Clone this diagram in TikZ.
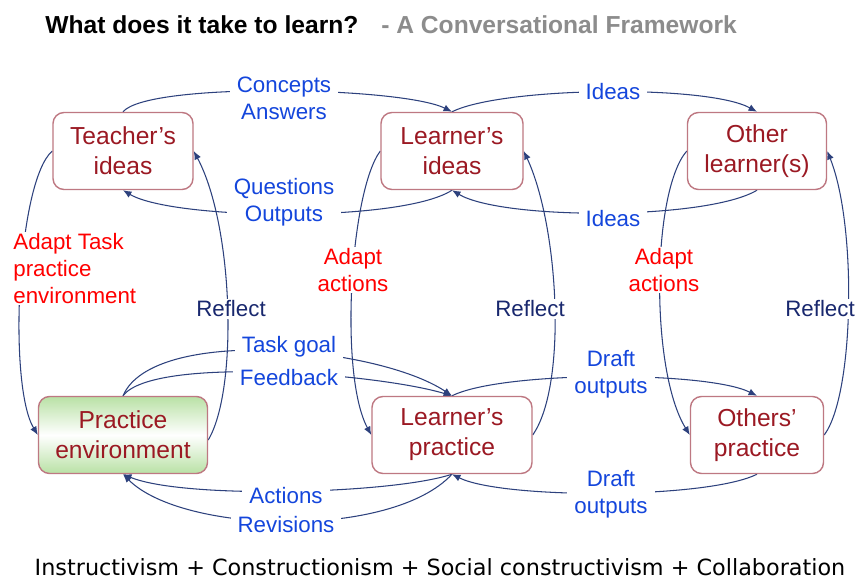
\documentclass[tikz,border=0pt]{standalone}
\usepackage{fontspec}
\setmainfont{Liberation Sans}
\newfontfamily\verdanafont{DejaVu Sans}
\usetikzlibrary{arrows.meta, positioning, backgrounds}

\definecolor{boxline}{RGB}{190,120,130}
\definecolor{boxtext}{RGB}{155,25,35}
\definecolor{lblblue}{RGB}{20,70,220}
\definecolor{navy}{RGB}{25,40,110}
\definecolor{linecol}{RGB}{45,65,125}
\definecolor{envgreen}{RGB}{185,225,165}
\definecolor{titlegray}{RGB}{140,140,140}

\begin{document}
\begin{tikzpicture}[
    on grid,
    idea/.style={rectangle, rounded corners=0.22cm, draw=boxline, line width=0.8pt, fill=white,
                 minimum height=1.54cm, minimum width=2.8cm, align=center, text=boxtext,
                 font=\fontsize{14}{17}\selectfont},
    envbox/.style={idea, top color=envgreen, bottom color=envgreen, middle color=white},
    lbl/.style={fill=white, inner xsep=4pt, inner ysep=1pt, align=center, text=lblblue,
                font=\fontsize{12.7}{15.2}\selectfont},
    adapt/.style={lbl, text=red},
    refl/.style={lbl, text=navy},
    arrow/.style={-{Latex[length=1.7mm, width=1.4mm]}, line width=0.6pt, draw=linecol}
]
\useasboundingbox (0,0) rectangle (17.14,-11.58);

% heading
\node[anchor=west, inner sep=0pt, font=\fontsize{14}{17}\selectfont\bfseries] (title) at (0.9,-0.5) {What does it take to learn?};
\node[anchor=west, inner sep=0pt, text=titlegray, font=\fontsize{14}{17}\selectfont\bfseries] (subtitle) at (7.62,-0.5) {- A Conversational Framework};

% ideas row
\node[idea] (tideas) at (2.46,-3.02) {Teacher’s\\ideas};
\node[idea, minimum width=2.84cm, right=6.58cm of tideas] (lideas) {Learner’s\\ideas};
\node[idea, minimum width=2.78cm, right=6.1cm of lideas] (oideas) {Other\\learner(s)};

% practice row
\node[envbox, minimum width=3.38cm, below=5.68cm of tideas] (penv) {Practice\\environment};
\node[idea, minimum width=3.2cm, below=5.68cm of lideas] (lpract) {Learner’s\\practice};
\node[idea, minimum width=2.66cm, below=5.68cm of oideas] (opract) {Others’\\practice};

% labels
\node[lbl] (concepts) at (5.68,-1.96) {Concepts\\Answers};
\node[lbl] (ideastop) at (12.26,-1.84) {Ideas};
\node[lbl] (questions) at (5.68,-4.04) {Questions\\Outputs};
\node[lbl] (ideasbot) at (12.26,-4.38) {Ideas};
\node[adapt, anchor=west, align=left] (adapttask) at (0.12,-5.37) {Adapt Task\\practice\\environment};
\node[adapt] (adaptl) at (7.06,-5.4) {Adapt\\actions};
\node[adapt] (adapto) at (13.28,-5.4) {Adapt\\actions};
\node[refl] (reflectt) at (4.62,-6.18) {Reflect};
\node[refl] (reflectl) at (10.6,-6.18) {Reflect};
\node[refl] (reflecto) at (16.4,-6.18) {Reflect};
\node[lbl] (taskgoal) at (5.78,-6.94) {Task goal};
\node[lbl] (feedback) at (5.78,-7.56) {Feedback};
\node[lbl] (drafttop) at (12.22,-7.48) {Draft\\outputs};
\node[lbl] (actions) at (5.72,-9.92) {Actions};
\node[lbl] (revisions) at (5.72,-10.5) {Revisions};
\node[lbl] (draftbot) at (12.22,-9.88) {Draft\\outputs};

\node[font=\verdanafont\fontsize{12.7}{15}\selectfont] (schools) at (8.8,-11.34)
    {Instructivism + Constructionism + Social constructivism + Collaboration};

\begin{scope}[on background layer]
\fill[white] (0,0) rectangle (17.14,-11.58);
% between ideas
\draw[arrow] (tideas.north) .. controls +(0.5,0.6) and +(-1.0,0.5) .. (lideas.north);
\draw[arrow] (lideas.north) .. controls +(1.0,0.5) and +(-1.0,0.55) .. (oideas.north);
\draw[arrow] (lideas.south) .. controls +(-1.0,-0.65) and +(1.0,-0.6) .. (tideas.south);
\draw[arrow] (oideas.south) .. controls +(-1.0,-0.6) and +(1.0,-0.6) .. (lideas.south);
% adapt and reflect
\draw[arrow] (tideas.west) .. controls +(-0.7,-0.6) and +(-0.6,1.0) .. (penv.west);
\draw[arrow] ([yshift=-0.1cm]penv.east) .. controls +(0.6,1.0) and +(0.8,-1.5) .. (tideas.east);
\draw[arrow] (lideas.west) .. controls +(-0.6,-0.8) and +(-0.65,1.2) .. (lpract.west);
\draw[arrow] (lpract.east) .. controls +(0.7,1.0) and +(0.7,-1.5) .. (lideas.east);
\draw[arrow] (oideas.west) .. controls +(-0.7,-0.8) and +(-0.8,1.3) .. (opract.west);
\draw[arrow] (opract.east) .. controls +(0.6,0.8) and +(0.6,-1.5) .. (oideas.east);
% between practices
\draw[arrow] (penv.north) .. controls +(0.6,1.4) and +(-1.5,1.0) .. (lpract.north);
\draw[arrow] (penv.north) .. controls +(0.6,0.8) and +(-1.5,0.45) .. (lpract.north);
\draw[arrow] (lpract.north) .. controls +(1.0,0.5) and +(-1.0,0.5) .. (opract.north);
\draw[arrow] (lpract.south) .. controls +(-1.2,-0.4) and +(1.2,-0.5) .. (penv.south);
\draw[arrow] (lpract.south) .. controls +(-1.2,-1.3) and +(1.2,-1.2) .. (penv.south);
\draw[arrow] (opract.south) .. controls +(-1.0,-0.5) and +(1.0,-0.5) .. (lpract.south);
\end{scope}

\end{tikzpicture}
\end{document}
